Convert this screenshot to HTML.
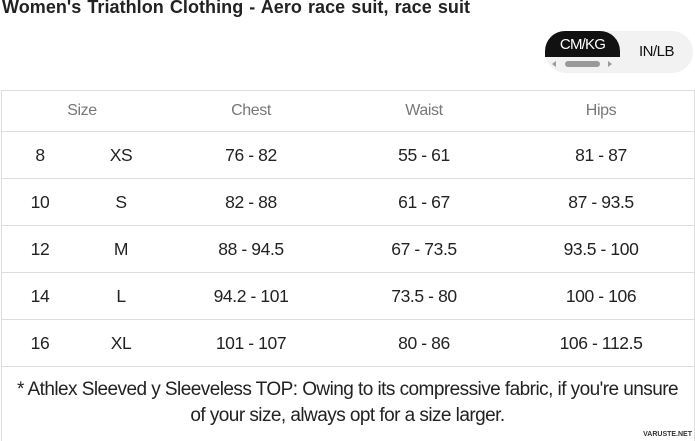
<!DOCTYPE html>
<html><head><style>
body{margin:0;width:695px;height:441px;background:#fff;font-family:"Liberation Sans",sans-serif;position:relative;overflow:hidden;color:#222}
.t{position:absolute;left:2px;top:-3px;font-size:18px;font-weight:bold;color:#222;letter-spacing:0.05px;word-spacing:1px}
.tog{position:absolute;left:545px;top:31px;width:148px;height:42px;background:#f2f2f2;border-radius:21px}
.blk{position:absolute;left:545px;top:31px;width:75px;height:26px;background:#111;border-radius:20px 20px 0 0;color:#fff;font-size:15px;text-align:center;line-height:28px;letter-spacing:-0.8px}
.sb{position:absolute;left:565px;top:61px;width:35px;height:6px;background:#999;border-radius:3px}
.al{position:absolute;top:61px;width:0;height:0;border-top:3px solid transparent;border-bottom:3px solid transparent}
.in{position:absolute;left:620px;top:31px;width:73px;height:42px;line-height:42px;text-align:center;font-size:15px;color:#111;letter-spacing:-0.5px}
.tb{position:absolute;left:1px;top:90px;width:692px;height:350px;border:1px solid #ddd;border-bottom:none}
.hl{position:absolute;left:1px;width:693px;height:1px;background:#ddd}
.c{position:absolute;transform:translateX(-50%);font-size:17.5px;white-space:nowrap;letter-spacing:-0.4px}
.h{color:#777;font-size:16px}
.fn{position:absolute;left:0;width:695px;text-align:center;font-size:19px;color:#222;letter-spacing:-0.55px}
.wm{position:absolute;right:3px;top:431px;font-size:7px;font-weight:bold;color:#333}
</style></head><body>
<div class="t">Women's Triathlon Clothing - Aero race suit, race suit</div>
<div class="tog"></div>
<div class="blk">CM/KG</div>
<div class="al" style="left:552px;border-right:4px solid #999"></div>
<div class="sb"></div>
<div class="al" style="left:608px;border-left:4px solid #999"></div>
<div class="in">IN/LB</div>
<div class="tb"></div>
<div class="hl" style="top:131px"></div>
<div class="hl" style="top:178px"></div>
<div class="hl" style="top:225px"></div>
<div class="hl" style="top:272px"></div>
<div class="hl" style="top:319px"></div>
<div class="hl" style="top:366px"></div>
<div class="c h" style="left:82px;top:102px">Size</div>
<div class="c h" style="left:251px;top:102px">Chest</div>
<div class="c h" style="left:424px;top:102px">Waist</div>
<div class="c h" style="left:601px;top:102px">Hips</div>

<div class="c" style="left:40px;top:145px">8</div><div class="c" style="left:121px;top:145px">XS</div><div class="c" style="left:251px;top:145px">76 - 82</div><div class="c" style="left:424px;top:145px">55 - 61</div><div class="c" style="left:601px;top:145px">81 - 87</div>
<div class="c" style="left:40px;top:192px">10</div><div class="c" style="left:121px;top:192px">S</div><div class="c" style="left:251px;top:192px">82 - 88</div><div class="c" style="left:424px;top:192px">61 - 67</div><div class="c" style="left:601px;top:192px">87 - 93.5</div>
<div class="c" style="left:40px;top:239px">12</div><div class="c" style="left:121px;top:239px">M</div><div class="c" style="left:251px;top:239px">88 - 94.5</div><div class="c" style="left:424px;top:239px">67 - 73.5</div><div class="c" style="left:601px;top:239px">93.5 - 100</div>
<div class="c" style="left:40px;top:286px">14</div><div class="c" style="left:121px;top:286px">L</div><div class="c" style="left:251px;top:286px">94.2 - 101</div><div class="c" style="left:424px;top:286px">73.5 - 80</div><div class="c" style="left:601px;top:286px">100 - 106</div>
<div class="c" style="left:40px;top:333px">16</div><div class="c" style="left:121px;top:333px">XL</div><div class="c" style="left:251px;top:333px">101 - 107</div><div class="c" style="left:424px;top:333px">80 - 86</div><div class="c" style="left:601px;top:333px">106 - 112.5</div>

<div class="fn" style="top:379px">* Athlex Sleeved y Sleeveless TOP: Owing to its compressive fabric, if you're unsure</div>
<div class="fn" style="top:405px">of your size, always opt for a size larger.</div>
<div class="wm">VARUSTE.NET</div>
</body></html>
